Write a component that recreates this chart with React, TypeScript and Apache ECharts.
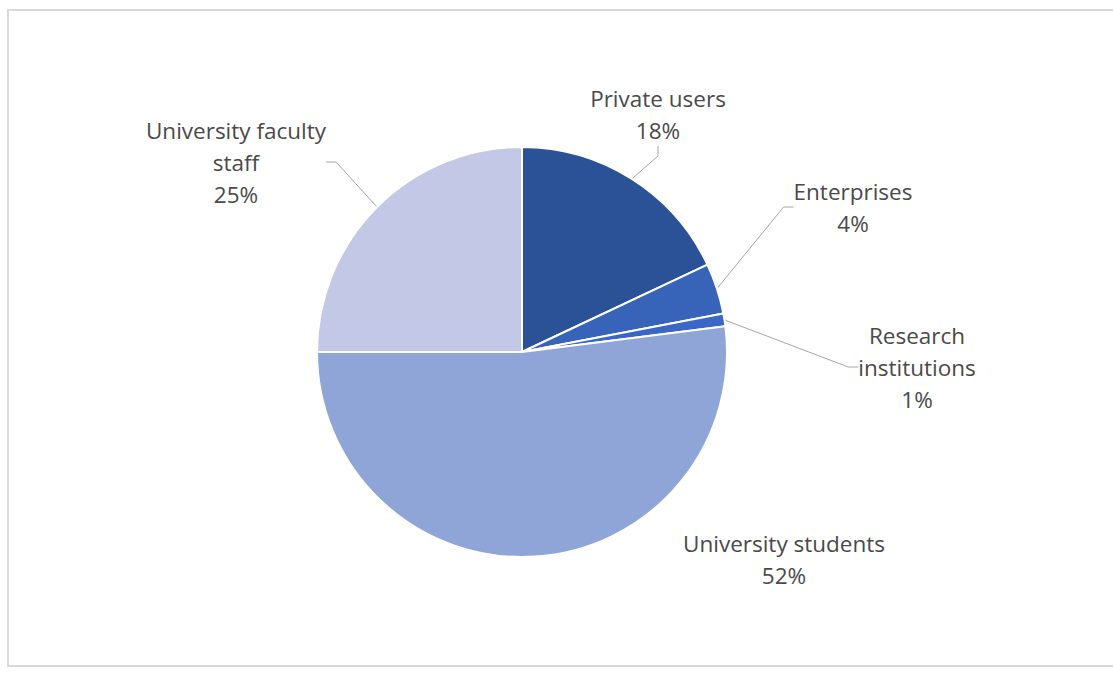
import React, { useEffect, useRef } from "react";
import * as echarts from "echarts";

const categories = [
  "Private users",
  "Enterprises",
  "Research institutions",
  "University students",
  "University faculty staff",
];
const shares = [18, 4, 1, 52, 25];
const labelTexts = [
  "Private users",
  "Enterprises",
  "Research\ninstitutions",
  "University students",
  "University faculty\nstaff",
];

const COLORS = ["#2B5197", "#3763B9", "#3A66C6", "#8FA4D7", "#C2C8E6"];
const LABEL_ANCHORS = [
  [658, 114],
  [853, 207],
  [917, 367],
  [784, 559],
  [236, 162],
];

export default function App() {
  const ref = useRef<HTMLDivElement>(null);
  useEffect(() => {
    if (!ref.current) return;
    const chart = echarts.init(ref.current, undefined, { renderer: "svg" });
    chart.setOption({
      animation: false,
      backgroundColor: "#ffffff",
      graphic: [
        {
          type: "rect",
          silent: true,
          shape: { x: 8, y: 10, width: 1130, height: 656 },
          style: { fill: "none", stroke: "#d9d9d9", lineWidth: 2 },
        },
      ],
      series: [
        {
          type: "pie",
          center: [522, 352],
          radius: [0, 205],
          startAngle: 90,
          clockwise: true,
          avoidLabelOverlap: false,
          silent: true,
          emphasis: { disabled: true },
          itemStyle: { borderColor: "#ffffff", borderWidth: 2 },
          data: categories.map((c, i) => ({
            name: c,
            value: shares[i],
            itemStyle: { color: COLORS[i] },
            labelLine: i === 3 ? { show: false } : undefined,
          })),
          label: {
            show: true,
            position: "outside",
            formatter: (p: any) => labelTexts[p.dataIndex] + "\n" + p.value + "%",
            fontFamily: "Open Sans",
            fontSize: 22.5,
            lineHeight: 32,
            color: "#4a4a4a",
            align: "center",
          },
          labelLine: {
            show: true,
            length: 20,
            length2: 10,
            lineStyle: { color: "#a6a6a6", width: 1 },
          },
          labelLayout: (p: any) => ({
            x: LABEL_ANCHORS[p.dataIndex][0],
            y: LABEL_ANCHORS[p.dataIndex][1],
            align: "center",
            verticalAlign: "middle",
          }),
        },
      ],
    });
    return () => chart.dispose();
  }, []);
  return (
    <div
      ref={ref}
      style={{ position: "fixed", left: 0, top: 0, width: 1113, height: 673 }}
    />
  );
}
